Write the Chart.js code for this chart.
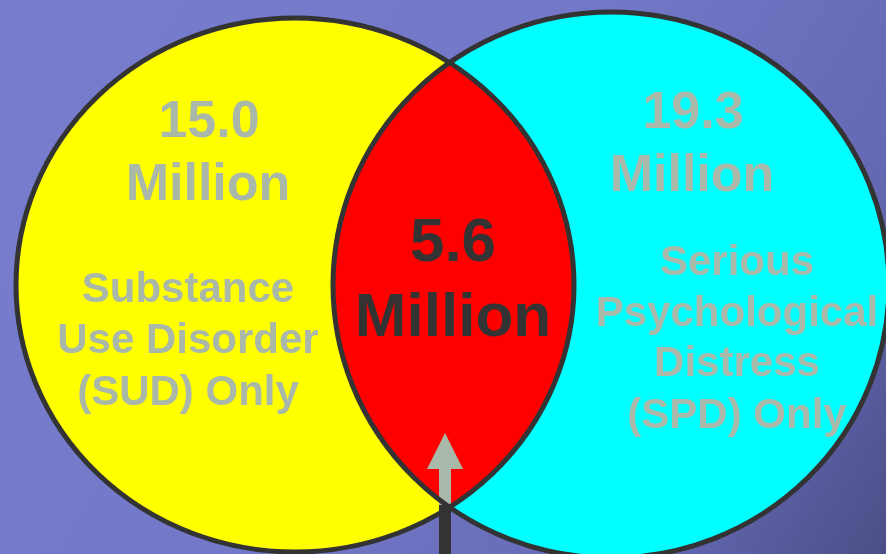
<!DOCTYPE html>
<html>
<head>
<meta charset="utf-8">
<script src="https://cdn.jsdelivr.net/npm/chart.js@4/dist/chart.umd.min.js"></script>
<style>
html,body{margin:0;padding:0;background:#7479c8;}
#wrap{width:886px;height:554px;position:relative;}
</style>
</head>
<body>
<div id="wrap"><canvas id="c" width="886" height="554"></canvas></div>
<script>
// ---- data ----
const setNames = ["Substance Use Disorder (SUD) Only", "Both", "Serious Psychological Distress (SPD) Only"];
const setValues = [15.0, 5.6, 19.3];           // millions
const valueUnit = "Million";
const leftLabelLines = ["Substance", "Use Disorder", "(SUD) Only"];
const rightLabelLines = ["Serious", "Psychological", "Distress", "(SPD) Only"];

// ---- layout (data-space geometry, in plot units) ----
const L = {cx: 295, cy: 285, rx: 279, ry: 267};
const R = {cx: 611, cy: 285, rx: 278, ry: 273};

const vennPlugin = {
  id: 'venn',
  beforeDatasetsDraw(chart) {
    const {ctx, scales:{x, y}} = chart;
    const px = v => x.getPixelForValue(v), py = v => y.getPixelForValue(v);
    const W = chart.width, H = chart.height;
    ctx.save();
    // background
    const g = ctx.createLinearGradient(0, 0, W, H);
    g.addColorStop(0, '#787dcd');
    g.addColorStop(0.5, '#7277c7');
    g.addColorStop(0.8, '#6569b3');
    g.addColorStop(1, '#4b4e86');
    ctx.fillStyle = g;
    ctx.fillRect(0, 0, W, H);
    const ell = (e) => {
      ctx.beginPath();
      ctx.ellipse(px(e.cx), py(e.cy), Math.abs(px(e.cx + e.rx) - px(e.cx)), Math.abs(py(e.cy + e.ry) - py(e.cy)), 0, 0, Math.PI * 2);
    };
    ell(L); ctx.fillStyle = '#ffff00'; ctx.fill();
    ell(R); ctx.fillStyle = '#00ffff'; ctx.fill();
    ctx.save();
    ell(L); ctx.clip();
    ell(R); ctx.fillStyle = '#ff0000'; ctx.fill();
    ctx.restore();
    // arrow
    const ax = px(445);
    ctx.fillStyle = '#333333';
    ctx.fillRect(ax - 6, py(505), 12, H - py(505));
    ctx.fillStyle = '#a9b8a8';
    ctx.fillRect(ax - 6, py(468), 12, py(505) - py(468));
    ctx.beginPath();
    ctx.moveTo(ax, py(433));
    ctx.lineTo(ax + 18, py(469));
    ctx.lineTo(ax - 18, py(469));
    ctx.closePath();
    ctx.fill();
    // outlines
    ctx.lineWidth = 5;
    ctx.strokeStyle = '#333333';
    ell(L); ctx.stroke();
    ell(R); ctx.stroke();
    ctx.restore();
  },
  afterDraw(chart) {
    const {ctx, scales:{x, y}} = chart;
    const px = v => x.getPixelForValue(v), py = v => y.getPixelForValue(v);
    ctx.save();
    ctx.textAlign = 'center';
    ctx.textBaseline = 'middle';
    const put = (t, cx, cy, size, color) => {
      ctx.font = 'bold ' + size + 'px "Liberation Sans", Arial, sans-serif';
      ctx.fillStyle = color;
      ctx.fillText(t, px(cx), py(cy));
    };
    const light = '#a9b8a8';
    put(setValues[0].toFixed(1), 209, 123, 52, light);
    put(valueUnit, 208, 186, 52, light);
    [290, 341, 393].forEach((yy, i) => put(leftLabelLines[i], 188, yy, 42, light));
    put(setValues[1].toFixed(1), 453, 244, 62, '#333333');
    put(valueUnit, 453, 319, 62, '#333333');
    put(setValues[2].toFixed(1), 693, 114, 52, light);
    put(valueUnit, 692, 177, 52, light);
    [263, 314, 364, 416].forEach((yy, i) => put(rightLabelLines[i], 737, yy, 42, light));
    ctx.restore();
  }
};

new Chart(document.getElementById('c'), {
  type: 'scatter',
  data: { datasets: [{ label: 'sets', data: setValues.map((v, i) => ({x: [L.cx, (L.cx + R.cx) / 2, R.cx][i], y: 285})), pointRadius: 0 }] },
  options: {
    responsive: false,
    animation: false,
    events: [],
    layout: { padding: 0 },
    plugins: { legend: {display: false}, tooltip: {enabled: false} },
    scales: {
      x: { type: 'linear', min: 0, max: 886, display: false },
      y: { type: 'linear', min: 0, max: 554, reverse: true, display: false }
    }
  },
  plugins: [vennPlugin]
});
</script>
</body>
</html>
